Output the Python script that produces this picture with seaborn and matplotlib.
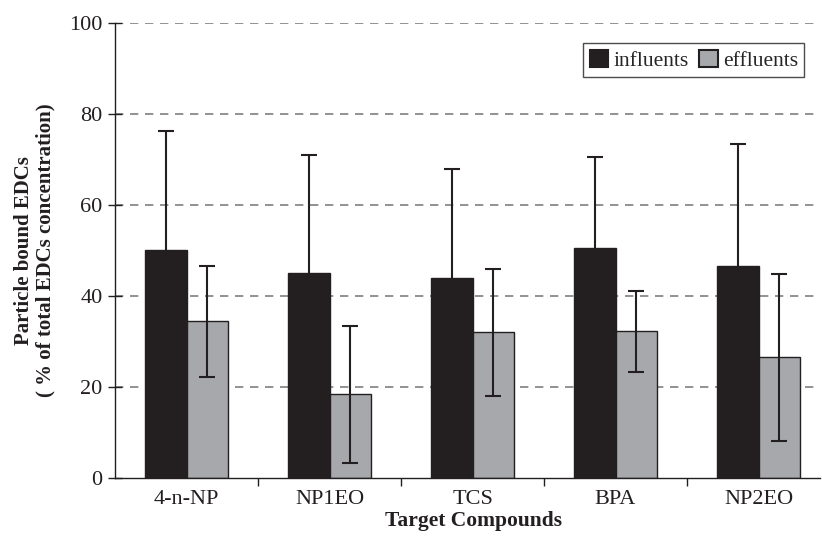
import matplotlib
matplotlib.use("Agg")
import matplotlib.pyplot as plt
import seaborn as sns
import pandas as pd
import numpy as np

compounds = ["4-n-NP", "NP1EO", "TCS", "BPA", "NP2EO"]
influents = [50.2, 45.0, 44.0, 50.5, 46.5]
influents_err = [26.0, 26.0, 24.0, 20.0, 27.0]
effluents = [34.5, 18.4, 32.0, 32.2, 26.5]
effluents_err = [12.2, 15.0, 14.0, 9.0, 18.3]
series = ["influents", "effluents"]
colors = ["#231f20", "#a6a8ab"]

df = pd.DataFrame({
    "compound": compounds * 2,
    "series": ["influents"] * 5 + ["effluents"] * 5,
    "value": influents + effluents,
})

sns.set_theme(style="white")
plt.rcParams["font.family"] = ["Liberation Serif", "DejaVu Serif"]

fig = plt.figure(figsize=(8.22, 5.41), dpi=100)
ax = fig.add_axes([115 / 822, 1 - 478 / 541, 705 / 822, 455 / 541])

sns.barplot(data=df, x="compound", y="value", hue="series", order=compounds,
            hue_order=series, palette=colors, width=0.575, edgecolor="#231f20",
            linewidth=1.0, saturation=1, ax=ax, zorder=3, errorbar=None)

errs = {"influents": influents_err, "effluents": effluents_err}
for cont, s in zip(ax.containers, series):
    xs = [p.get_x() + p.get_width() / 2 for p in cont.patches]
    hs = [p.get_height() for p in cont.patches]
    ax.errorbar(xs, hs, yerr=errs[s], fmt="none", ecolor="#231f20",
                elinewidth=1.5, capsize=6, capthick=1.5, zorder=4)

ax.set_ylim(0, 100)
ax.set_xlim(-0.5, 4.43)
yt = [0, 20, 40, 60, 80, 100]
ax.set_yticks(yt)
ax.set_xticks(range(5))
ax.set_xticklabels(compounds)
ax.set_xticks([0.5, 1.5, 2.5, 3.5], minor=True)
ax.tick_params(axis="x", which="major", length=0, labelsize=16, pad=9, colors="#231f20")
ax.tick_params(axis="x", which="minor", length=6, width=1, direction="out", bottom=True, color="#231f20")
ax.tick_params(axis="y", which="major", length=10, width=1, direction="inout", left=True,
               labelsize=16, pad=4, colors="#231f20")

ax.grid(False)
for v in yt[1:]:
    ax.axhline(v, linestyle=(0, (5, 4)), color="#7f7f7f", linewidth=1.2, zorder=0)
for sp in ["top", "right"]:
    ax.spines[sp].set_visible(False)
for sp in ["left", "bottom"]:
    ax.spines[sp].set_color("#231f20")
    ax.spines[sp].set_linewidth(1.0)
    ax.spines[sp].set_zorder(5)

ax.set_xlabel("Target Compounds", fontsize=15.5, fontweight="bold", color="#231f20")
ax.xaxis.set_label_coords(0.509, -0.073)
ax.set_ylabel("Particle bound EDCs\n( % of total EDCs concentration)", fontsize=15,
              fontweight="bold", color="#231f20", labelpad=10, linespacing=1.05)

leg = ax.legend(loc="upper right", bbox_to_anchor=(0.978, 0.955), ncol=2, fontsize=15.5,
                frameon=True, fancybox=False, edgecolor="#231f20", handlelength=0.85,
                handleheight=0.85, handletextpad=0.25, columnspacing=0.5,
                borderpad=0.3, borderaxespad=0)
leg.get_frame().set_linewidth(1.0)
for h in leg.legend_handles:
    h.set_edgecolor("#231f20")
    h.set_linewidth(1.5)

fig.savefig("out.png", dpi=100)
